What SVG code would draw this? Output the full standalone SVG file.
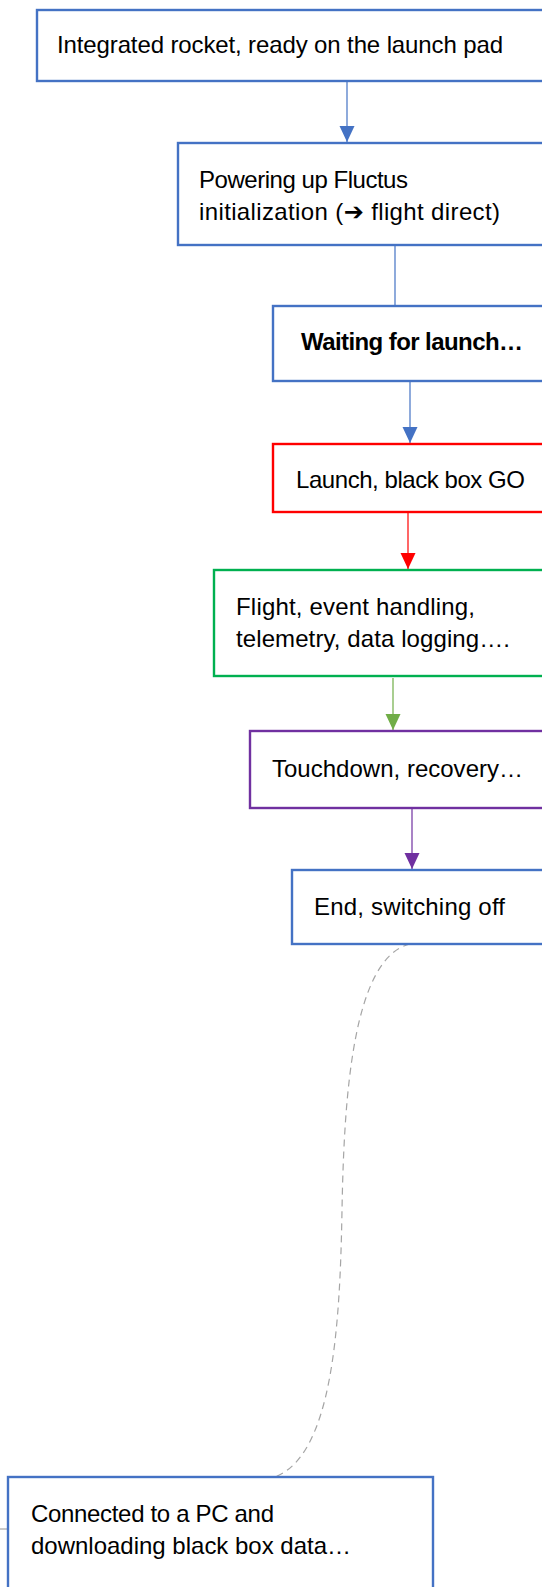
<svg xmlns="http://www.w3.org/2000/svg" width="542" height="1587" viewBox="0 0 542 1587">
<style>
.box{fill:#fff;stroke-width:2.4}
.blue{stroke:#4472C4}
.red{stroke:#FF0000}
.green{stroke:#00B050}
.purple{stroke:#7030A0}
text{font-family:"Liberation Sans",Arial,"DejaVu Sans",sans-serif;font-size:24px;fill:#000}
.b{font-weight:bold}
.con{fill:none;stroke-width:1.2}
</style>
<defs>
<marker id="ahBlue" viewBox="0 0 16 16" refX="16" refY="8" markerWidth="16" markerHeight="16" markerUnits="userSpaceOnUse" orient="auto"><path d="M0,0.5 L16,8 L0,15.5 z" fill="#4472C4"/></marker>
<marker id="ahRed" viewBox="0 0 16 16" refX="16" refY="8" markerWidth="16" markerHeight="16" markerUnits="userSpaceOnUse" orient="auto"><path d="M0,0.5 L16,8 L0,15.5 z" fill="#FF0000"/></marker>
<marker id="ahGreen" viewBox="0 0 16 16" refX="16" refY="8" markerWidth="16" markerHeight="16" markerUnits="userSpaceOnUse" orient="auto"><path d="M0,0.5 L16,8 L0,15.5 z" fill="#70AD47"/></marker>
<marker id="ahPurple" viewBox="0 0 16 16" refX="16" refY="8" markerWidth="16" markerHeight="16" markerUnits="userSpaceOnUse" orient="auto"><path d="M0,0.5 L16,8 L0,15.5 z" fill="#7030A0"/></marker>
</defs>
<g id="connectors">
<line class="con" x1="347" y1="82" x2="347" y2="142" stroke="#4472C4" marker-end="url(#ahBlue)"/>
<line class="con" x1="395" y1="246" x2="395" y2="305" stroke="#4472C4"/>
<line class="con" x1="410" y1="382" x2="410" y2="443" stroke="#4472C4" marker-end="url(#ahBlue)"/>
<line class="con" x1="408" y1="513" x2="408" y2="569" stroke="#FF0000" marker-end="url(#ahRed)"/>
<line class="con" x1="393" y1="678" x2="393" y2="730" stroke="#70AD47" marker-end="url(#ahGreen)"/>
<line class="con" x1="412" y1="809" x2="412" y2="869" stroke="#7030A0" marker-end="url(#ahPurple)"/>
<path class="con" d="M410,944 C352,958 344,1100 342,1210 C340,1330 332,1455 275,1477" stroke="#A5A5A5" stroke-width="1.8" stroke-dasharray="7,5"/>
<line class="con" x1="0" y1="1529" x2="8" y2="1529" stroke="#A5A5A5"/>
</g>
<g id="n1">
<rect class="box blue" x="37" y="10" width="520" height="71"/>
<text x="57" y="53" textLength="446">Integrated rocket, ready on the launch pad</text>
</g>
<g id="n2">
<rect class="box blue" x="178" y="143" width="380" height="102"/>
<text x="199" y="188" textLength="209">Powering up Fluctus</text>
<text x="199" y="220" textLength="301">initialization (<tspan class="b">➔</tspan> flight direct)</text>
</g>
<g id="n3">
<rect class="box blue" x="273" y="306" width="290" height="75"/>
<text class="b" x="301" y="350" textLength="222">Waiting for launch…</text>
</g>
<g id="n4">
<rect class="box red" x="273" y="444" width="290" height="68"/>
<text x="296" y="488" textLength="229">Launch, black box GO</text>
</g>
<g id="n5">
<rect class="box green" x="214" y="570" width="350" height="106"/>
<text x="236" y="615" textLength="239">Flight, event handling,</text>
<text x="236" y="647" textLength="274">telemetry, data logging….</text>
</g>
<g id="n6">
<rect class="box purple" x="250" y="731" width="310" height="77"/>
<text x="272" y="777" textLength="251">Touchdown, recovery…</text>
</g>
<g id="n7">
<rect class="box blue" x="292" y="870" width="270" height="74"/>
<text x="314" y="915" textLength="191">End, switching off</text>
</g>
<g id="n8">
<rect class="box blue" x="8" y="1477" width="425" height="130"/>
<text x="31" y="1522" textLength="243">Connected to a PC and</text>
<text x="31" y="1554" textLength="320">downloading black box data…</text>
</g>
</svg>
